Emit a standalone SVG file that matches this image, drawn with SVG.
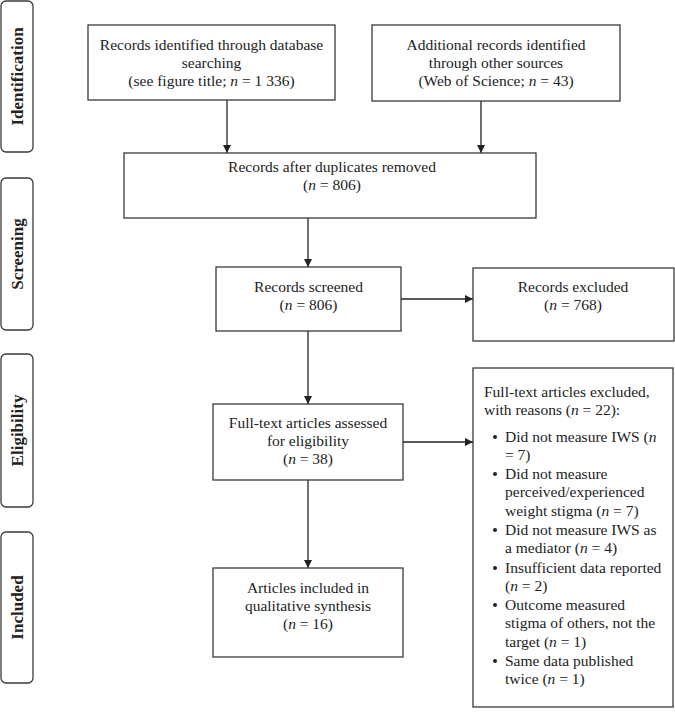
<svg xmlns="http://www.w3.org/2000/svg" width="675" height="721" viewBox="0 0 675 721">
<style>
  .box { fill: #fff; stroke: #3a3a3a; stroke-width: 1.3; }
  .lab { fill: #fff; stroke: #3a3a3a; stroke-width: 1.3; }
  .t { font-family: "Liberation Serif", "Times New Roman", serif; font-size: 15.5px; fill: #222; }
  .c { text-anchor: middle; }
  .side { font-family: "Liberation Serif", "Times New Roman", serif; font-size: 17px; font-weight: bold; fill: #222; text-anchor: middle; }
  .i { font-style: italic; }
  .conn { stroke: #222; stroke-width: 1.3; fill: none; marker-end: url(#ah); }
</style>
<defs>
  <marker id="ah" viewBox="0 0 10 10" refX="10" refY="5" markerWidth="8" markerHeight="8" markerUnits="userSpaceOnUse" orient="auto">
    <path d="M0,0 L10,5 L0,10 z" fill="#222"/>
  </marker>
</defs>
<rect width="675" height="721" fill="#fff"/>

<g id="label-identification">
  <rect class="lab" x="1" y="1" width="32" height="151" rx="5"/>
  <text class="side" transform="translate(23,76.5) rotate(-90)">Identification</text>
</g>
<g id="label-screening">
  <rect class="lab" x="1" y="178" width="32" height="152" rx="5"/>
  <text class="side" transform="translate(23,254) rotate(-90)">Screening</text>
</g>
<g id="label-eligibility">
  <rect class="lab" x="1" y="354" width="32" height="153" rx="5"/>
  <text class="side" transform="translate(23,430.5) rotate(-90)">Eligibility</text>
</g>
<g id="label-included">
  <rect class="lab" x="1" y="532" width="32" height="151" rx="5"/>
  <text class="side" transform="translate(23,607.5) rotate(-90)">Included</text>
</g>

<g id="connectors">
  <line class="conn" x1="227" y1="100" x2="227" y2="153"/>
  <line class="conn" x1="481" y1="101" x2="481" y2="153"/>
  <line class="conn" x1="308" y1="218" x2="308" y2="267"/>
  <line class="conn" x1="401" y1="299" x2="473" y2="299"/>
  <line class="conn" x1="308" y1="331" x2="308" y2="404"/>
  <line class="conn" x1="403" y1="442" x2="473" y2="442"/>
  <line class="conn" x1="308" y1="480" x2="308" y2="568"/>
</g>

<g id="db-search">
  <rect class="box" x="88" y="25" width="247" height="75"/>
  <text class="t c" x="211.5" y="50">Records identified through database</text>
  <text class="t c" x="211.5" y="68">searching</text>
  <text class="t c" x="211.5" y="86">(see figure title; <tspan class="i">n</tspan> = 1 336)</text>
</g>
<g id="other-sources">
  <rect class="box" x="372" y="25" width="248" height="76"/>
  <text class="t c" x="496" y="50">Additional records identified</text>
  <text class="t c" x="496" y="68">through other sources</text>
  <text class="t c" x="496" y="86">(Web of Science; <tspan class="i">n</tspan> = 43)</text>
</g>
<g id="duplicates-removed">
  <rect class="box" x="124" y="153" width="412" height="65"/>
  <text class="t c" x="332" y="172">Records after duplicates removed</text>
  <text class="t c" x="332" y="190">(<tspan class="i">n</tspan> = 806)</text>
</g>
<g id="screened">
  <rect class="box" x="216" y="267" width="185" height="64"/>
  <text class="t c" x="308.5" y="292">Records screened</text>
  <text class="t c" x="308.5" y="310">(<tspan class="i">n</tspan> = 806)</text>
</g>
<g id="excluded">
  <rect class="box" x="473" y="268" width="201" height="73"/>
  <text class="t c" x="573" y="292">Records excluded</text>
  <text class="t c" x="573" y="310">(<tspan class="i">n</tspan> = 768)</text>
</g>
<g id="full-text">
  <rect class="box" x="213" y="404" width="190" height="76"/>
  <text class="t c" x="308" y="428">Full-text articles assessed</text>
  <text class="t c" x="308" y="446">for eligibility</text>
  <text class="t c" x="308" y="464">(<tspan class="i">n</tspan> = 38)</text>
</g>
<g id="full-text-excluded">
  <rect class="box" x="473" y="368" width="200" height="339"/>
  <text class="t" x="484" y="397">Full-text articles excluded,</text>
  <text class="t" x="484" y="415">with reasons (<tspan class="i">n</tspan> = 22):</text>
  <g fill="#222">
    <circle cx="495" cy="437" r="2"/>
    <circle cx="495" cy="474" r="2"/>
    <circle cx="495" cy="530" r="2"/>
    <circle cx="495" cy="568" r="2"/>
    <circle cx="495" cy="605" r="2"/>
    <circle cx="495" cy="661" r="2"/>
  </g>
  <text class="t" x="505" y="442">Did not measure IWS (<tspan class="i">n</tspan></text>
  <text class="t" x="505" y="460">= 7)</text>
  <text class="t" x="505" y="479">Did not measure</text>
  <text class="t" x="505" y="497">perceived/experienced</text>
  <text class="t" x="505" y="516">weight stigma (<tspan class="i">n</tspan> = 7)</text>
  <text class="t" x="505" y="535">Did not measure IWS as</text>
  <text class="t" x="505" y="553">a mediator (<tspan class="i">n</tspan> = 4)</text>
  <text class="t" x="505" y="573">Insufficient data reported</text>
  <text class="t" x="505" y="591">(<tspan class="i">n</tspan> = 2)</text>
  <text class="t" x="505" y="610">Outcome measured</text>
  <text class="t" x="505" y="628">stigma of others, not the</text>
  <text class="t" x="505" y="647">target (<tspan class="i">n</tspan> = 1)</text>
  <text class="t" x="505" y="666">Same data published</text>
  <text class="t" x="505" y="684">twice (<tspan class="i">n</tspan> = 1)</text>
</g>
<g id="included">
  <rect class="box" x="213" y="568" width="190" height="89"/>
  <text class="t c" x="308" y="593">Articles included in</text>
  <text class="t c" x="308" y="611">qualitative synthesis</text>
  <text class="t c" x="308" y="629">(<tspan class="i">n</tspan> = 16)</text>
</g>
</svg>
